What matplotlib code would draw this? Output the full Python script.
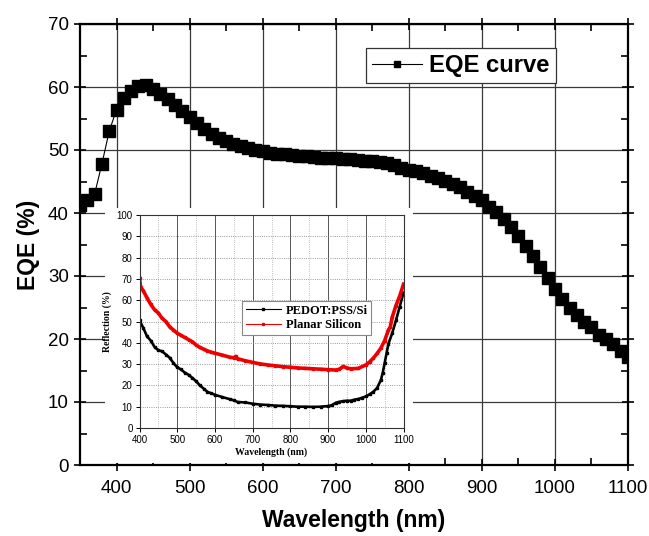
import matplotlib
matplotlib.use("Agg")
import matplotlib.pyplot as plt
from matplotlib.patches import Rectangle
from matplotlib.ticker import MultipleLocator

# EQE curve (main plot)
eqe_wl = list(range(350, 1101, 10))
eqe_val = [41.3, 42.0, 43.0, 47.8, 53.0, 56.4, 58.2, 59.3, 60.1, 60.3,
           59.7, 58.9, 58.1, 57.2, 56.2, 55.2, 54.3, 53.4, 52.6, 51.9,
           51.35, 50.9, 50.6, 50.3, 50.0, 49.8, 49.6, 49.4, 49.3, 49.2,
           49.1, 49.0, 48.9, 48.8, 48.75, 48.7, 48.6, 48.5, 48.4, 48.3,
           48.2, 48.1, 47.9, 47.6, 47.2, 46.9, 46.6, 46.3, 45.9, 45.6,
           45.1, 44.6, 44.05, 43.35, 42.7, 42.0, 41.0, 40.2, 39.1, 37.8,
           36.3, 34.8, 33.2, 31.5, 29.7, 27.9, 26.3, 25.0, 23.8, 22.7,
           21.9, 20.7, 20.0, 19.2, 18.1, 17.2]

# reflection spectra (inset)
pedot_wl = [400, 410, 420, 430, 440, 450, 460, 470, 480, 490, 500, 510, 520,
            530, 540, 550, 560, 570, 580, 590, 600, 620, 640, 650, 660, 680,
            700, 720, 740, 760, 780, 800, 820, 840, 860, 880, 900, 910, 920,
            930, 940, 950, 960, 970, 980, 990, 1000, 1010, 1020, 1030, 1040,
            1045, 1050, 1055, 1060, 1070, 1080, 1090, 1100]
pedot_r = [50.5, 47, 43, 41, 38, 36.5, 36, 34.5, 33, 30.5, 28.5, 27.5, 26,
           25, 23.5, 22, 20, 18.5, 17, 16.3, 15.6, 14.5, 13.5, 13, 12.2, 12,
           11.4, 11, 10.8, 10.5, 10.4, 10.2, 10.0, 10.0, 9.9, 10.0, 10.3,
           10.7, 11.8, 12.3, 12.6, 12.8, 12.8, 13.3, 13.6, 14.2, 14.8, 15.8,
           17.0, 18.8, 22.5, 26, 30.5, 35, 39.5, 44.5, 50.5, 57, 63.5]

planar_wl = [400, 403, 410, 420, 430, 440, 450, 460, 470, 480, 490, 500, 510,
             520, 530, 540, 550, 560, 570, 580, 590, 600, 620, 640, 650, 655,
             660, 680, 700, 720, 740, 760, 780, 800, 820, 840, 860, 880, 900,
             920, 930, 940, 950, 960, 980, 1000, 1010, 1020, 1030, 1040, 1050,
             1060, 1065, 1070, 1080, 1090, 1100]
planar_r = [70.5, 66, 64.5, 61, 58, 55.5, 54, 51.5, 50, 47.5, 46, 44.5, 43.5,
            42.5, 41.5, 40.5, 39, 37.8, 37, 36.2, 35.6, 35.1, 34.2, 33.2, 33.0,
            33.6, 32.5, 31.6, 30.8, 30.1, 29.6, 29.2, 28.8, 28.5, 28.2, 28.0,
            27.8, 27.6, 27.4, 27.2, 27.6, 28.9, 28.2, 27.8, 28.0, 29.6, 31,
            32.8, 35, 37.5, 41, 46, 47.5, 52, 57.5, 62, 67.5]

W, H = 649, 536
sans = ['Liberation Sans', 'DejaVu Sans']
serif = ['Liberation Serif', 'DejaVu Serif']

fig = plt.figure(figsize=(W / 100, H / 100), dpi=100)
ax = fig.add_axes([80 / W, 1 - 465 / H, 548 / W, 441 / H])

ax.plot(eqe_wl, eqe_val, color='black', lw=0.8, marker='s', ms=8,
        mec='black', mfc='black', label='EQE curve', zorder=3)
ax.set_xlim(350, 1100)
ax.set_ylim(0, 70)
ax.xaxis.set_major_locator(MultipleLocator(100))
ax.xaxis.set_minor_locator(MultipleLocator(50))
ax.yaxis.set_major_locator(MultipleLocator(10))
ax.yaxis.set_minor_locator(MultipleLocator(5))
ax.grid(True, which='major', color='#3a3a3a', lw=0.9)
ax.tick_params(which='major', direction='inout', length=9, width=1.2,
               labelsize=13.5, top=True, right=True)
ax.tick_params(which='minor', direction='in', length=5, width=1.2,
               top=True, right=True)
ax.tick_params(axis='x', which='major', pad=6)
for lab in ax.get_xticklabels() + ax.get_yticklabels():
    lab.set_family(sans)
for s in ax.spines.values():
    s.set_linewidth(1.6)
ax.set_xlabel('Wavelength (nm)', fontsize=16.5, fontweight='bold',
              family=sans, labelpad=9)
ax.set_ylabel('EQE (%)', fontsize=16.5, fontweight='bold', family=sans,
              labelpad=6)

leg = ax.legend(loc='upper left', bbox_to_anchor=((366 - 80) / 548, (465 - 48) / 441),
                borderaxespad=0,
                prop={'family': sans, 'weight': 'bold', 'size': 17.2},
                handlelength=2.1, handletextpad=0.3, borderpad=0.25,
                markerscale=0.6, fancybox=False, framealpha=1,
                edgecolor='#333333')
leg.get_frame().set_linewidth(0.9)

# white area behind the inset
ax.add_patch(Rectangle((105 / W, 1 - 463 / H), 308 / W, 255 / H,
                       transform=fig.transFigure, facecolor='white',
                       edgecolor='none', zorder=1.6))

# inset
ins = fig.add_axes([139.5 / W, 1 - 428 / H, 264 / W, 213 / H])
ins.plot(pedot_wl, pedot_r, color='black', lw=1.9, marker='s', ms=1.5,
         label='PEDOT:PSS/Si')
ins.plot(planar_wl, planar_r, color='#ee0000', lw=2.6, marker='s', ms=1.5,
         label='Planar Silicon')
ins.set_xlim(400, 1100)
ins.set_ylim(0, 100)
ins.xaxis.set_major_locator(MultipleLocator(100))
ins.xaxis.set_minor_locator(MultipleLocator(50))
ins.yaxis.set_major_locator(MultipleLocator(10))
ins.grid(True, axis='x', which='major', color='#555555', lw=0.7)
ins.grid(True, axis='x', which='minor', color='#aaaaaa', lw=0.6, ls=':')
ins.grid(True, axis='y', which='major', color='#777777', lw=0.6, ls=':')
ins.tick_params(which='major', direction='out', length=3, width=0.7,
                labelsize=7, pad=2)
ins.tick_params(which='minor', length=0)
for lab in ins.get_xticklabels() + ins.get_yticklabels():
    lab.set_family(sans)
for s in ins.spines.values():
    s.set_linewidth(0.8)
    s.set_color('#333333')
ins.set_xlabel('Wavelength (nm)', fontsize=7, fontweight='bold',
               family=serif, labelpad=2)
ins.set_ylabel('Reflection (%)', fontsize=7, fontweight='bold',
               family=serif, labelpad=3)
ileg = ins.legend(loc='upper left', bbox_to_anchor=(0.388, 0.596),
                  borderaxespad=0,
                  prop={'family': serif, 'weight': 'bold', 'size': 9},
                  handlelength=2.8, handletextpad=0.4, borderpad=0.3,
                  labelspacing=0.2, markerscale=1.0, fancybox=False,
                  framealpha=1, edgecolor='#888888')
for line in ileg.get_lines():
    line.set_linewidth(0.8)
ileg.get_frame().set_linewidth(0.8)

fig.savefig('out.png', dpi=100)
